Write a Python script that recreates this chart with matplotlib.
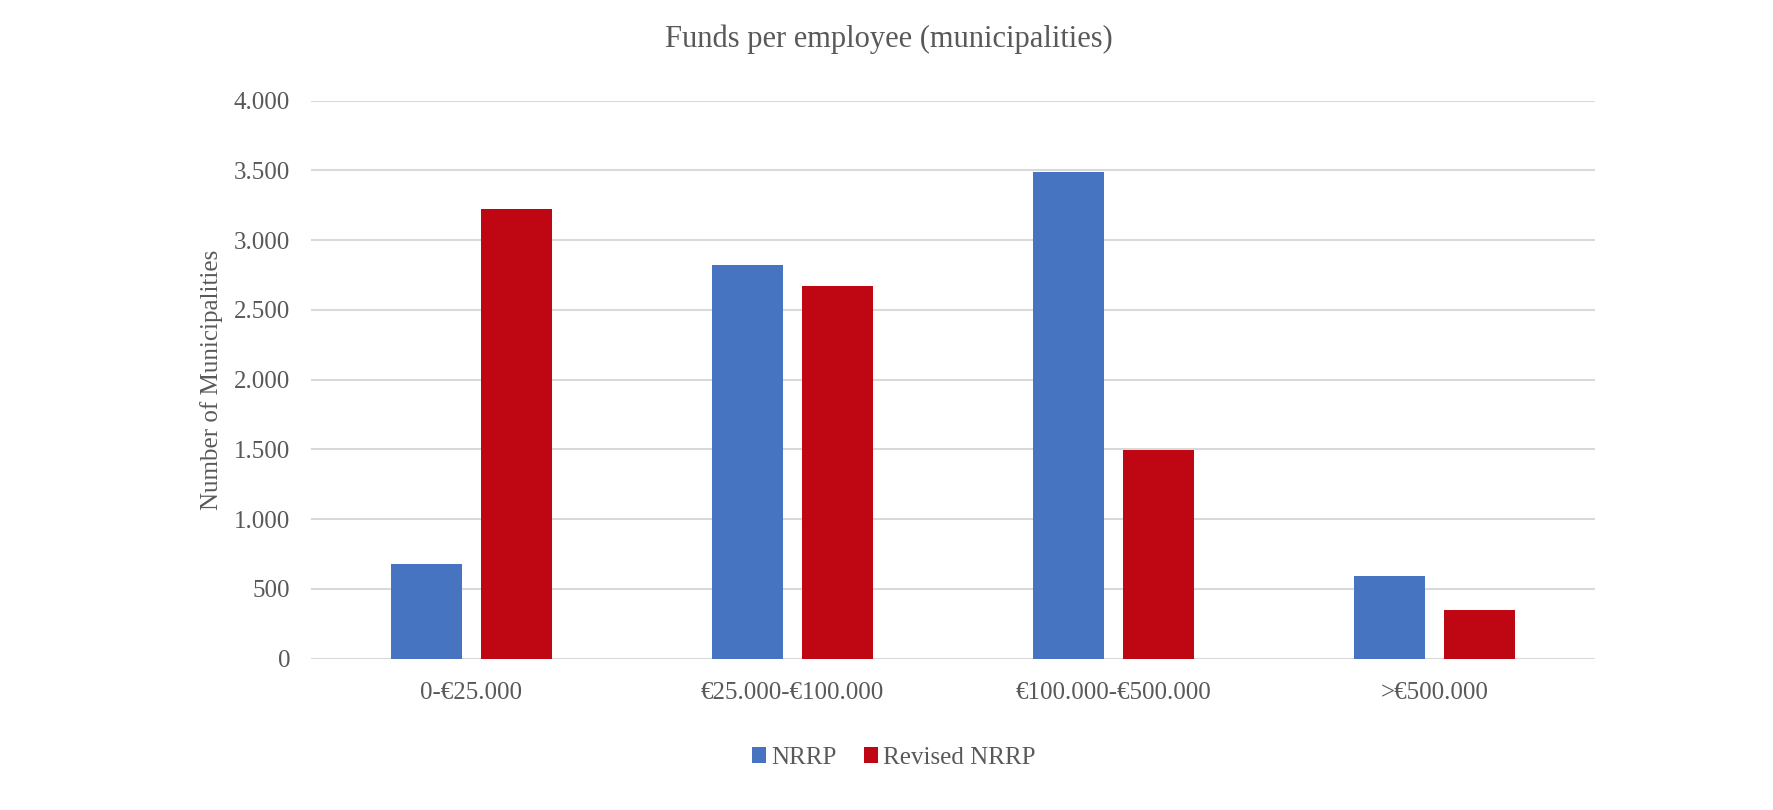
import numpy as np
import matplotlib
matplotlib.use("Agg")
import matplotlib.pyplot as plt

plt.rcParams['font.family'] = ['Liberation Serif', 'DejaVu Serif']

categories = ["0-€25.000", "€25.000-€100.000", "€100.000-€500.000", ">€500.000"]
nrrp = [680, 2820, 3490, 595]
revised_nrrp = [3220, 2670, 1495, 350]
yticks = [0, 500, 1000, 1500, 2000, 2500, 3000, 3500, 4000]
ytick_labels = ["0", "500", "1.000", "1.500", "2.000", "2.500", "3.000", "3.500", "4.000"]

text_color = "#595959"
blue = "#4674C1"
red = "#BE0712"

fig = plt.figure(figsize=(17.74, 8.10), dpi=100)
ax = fig.add_axes([0.1753, 0.187, 0.7238, 0.6887])

x = np.arange(len(categories))
w = 0.222
off = 0.141
ax.bar(x - off, nrrp, w, color=blue, label="NRRP", zorder=3)
ax.bar(x + off, revised_nrrp, w, color=red, label="Revised NRRP", zorder=3)

ax.set_xlim(-0.5, len(categories) - 0.5)
ax.set_ylim(0, 4000)
ax.set_yticks(yticks)
ax.set_yticklabels(ytick_labels)
ax.set_xticks(x)
ax.set_xticklabels(categories)
ax.tick_params(axis='both', length=0, labelsize=18, colors=text_color)
ax.tick_params(axis='y', pad=15)
ax.tick_params(axis='x', pad=17)
ax.yaxis.grid(True, color="#D9D9D9", linewidth=1.5, zorder=0)
for s in ax.spines.values():
    s.set_visible(False)

ax.set_ylabel("Number of Municipalities", fontsize=18, color=text_color, labelpad=8)
fig.text(0.501, 0.952, "Funds per employee (municipalities)", fontsize=22,
         color=text_color, ha='center', va='center')

fig.legend(loc='center', bbox_to_anchor=(0.504, 0.064), ncol=2, frameon=False,
           fontsize=18, labelcolor=text_color, handlelength=0.56, handleheight=0.6,
           handletextpad=0.2, columnspacing=1.1)

fig.savefig("out.png", dpi=100, facecolor="white")
